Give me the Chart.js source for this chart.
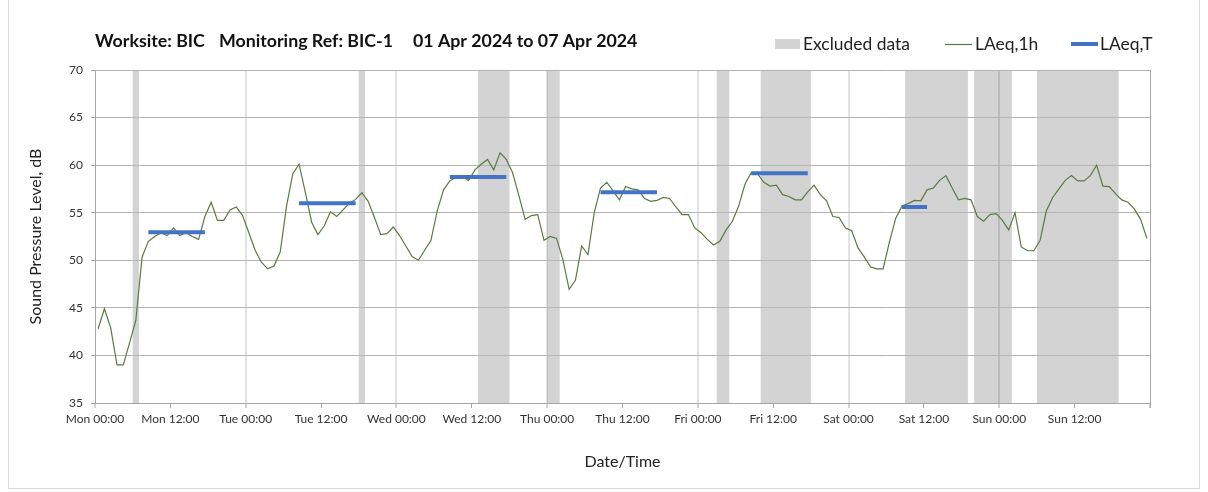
<!DOCTYPE html>
<html><head><meta charset="utf-8">
<script src="https://cdn.jsdelivr.net/npm/chart.js@4.4.1/dist/chart.umd.min.js"></script>
<style>html,body{margin:0;padding:0;background:#fff;}#wrap{position:relative;width:1208px;height:492px;}</style>
</head><body><div id="wrap"><canvas id="c" width="1208" height="492"></canvas></div>
<script>
// ---- data ----
const tickLabels = ['Mon 00:00','Mon 12:00','Tue 00:00','Tue 12:00','Wed 00:00','Wed 12:00','Thu 00:00','Thu 12:00','Fri 00:00','Fri 12:00','Sat 00:00','Sat 12:00','Sun 00:00','Sun 12:00'];
// hourly LAeq,1h values (Mon 00:00 .. Sun 23:00), plotted at mid-hour
const laeq1h = [
 42.8, 44.9, 42.9, 39.0, 39.0, 41.3, 43.7, 50.35, 52.0, 52.5,
 52.9, 52.6, 53.4, 52.6, 52.9, 52.5, 52.2, 54.6, 56.1, 54.2,
 54.2, 55.3, 55.6, 54.7, 52.9, 51.05, 49.8, 49.1, 49.4, 50.9,
 55.7, 59.1, 60.1, 57.1, 54.0, 52.7, 53.6, 55.1, 54.6, 55.3,
 56.0, 56.4, 57.1, 56.2, 54.5, 52.7, 52.8, 53.5, 52.6, 51.5,
 50.4, 50.0, 51.05, 52.1, 55.2, 57.4, 58.35, 58.7, 58.8, 58.4,
 59.5, 60.1, 60.6, 59.5, 61.3, 60.6, 59.2, 56.8, 54.3, 54.7,
 54.8, 52.1, 52.5, 52.3, 50.1, 46.95, 47.9, 51.5, 50.6, 55.0,
 57.6, 58.2, 57.3, 56.35, 57.75, 57.5, 57.4, 56.5, 56.2, 56.3,
 56.6, 56.5, 55.6, 54.8, 54.8, 53.4, 52.9, 52.2, 51.6, 52.0,
 53.2, 54.1, 55.7, 58.0, 59.2, 59.1, 58.2, 57.8, 57.9, 56.9,
 56.7, 56.35, 56.35, 57.2, 57.9, 56.9, 56.25, 54.6, 54.5, 53.4,
 53.1, 51.3, 50.35, 49.3, 49.1, 49.1, 51.9, 54.4, 55.7, 55.96,
 56.3, 56.25, 57.4, 57.6, 58.4, 58.9, 57.6, 56.35, 56.5, 56.35,
 54.6, 54.1, 54.8, 54.9, 54.2, 53.2, 55.0, 51.4, 51.0, 51.0,
 52.1, 55.2, 56.6, 57.5, 58.4, 58.9, 58.35, 58.35, 58.9, 60.0,
 57.8, 57.75, 57.0, 56.35, 56.1, 55.4, 54.3, 52.3
];
// LAeq,T periods (hours from Mon 00:00)
const laeqTStart = [8.5, 32.5, 56.5, 80.5, 104.5, 128.5];
const laeqTEnd   = [17.5, 41.5, 65.5, 89.5, 113.5, 132.5];
const laeqTValue = [52.95, 56.0, 58.75, 57.15, 59.15, 55.6];
// excluded data periods (hours from Mon 00:00)
const excludedStart = [6, 42, 61, 72, 99, 106, 129, 140, 150];
const excludedEnd   = [7, 43, 66, 74, 101, 114, 139, 146, 163];

// ---- build datasets ----
const lineData = laeq1h.map((v, i) => ({x: i + 0.5, y: v}));
const tData = [];
laeqTStart.forEach((s, k) => {
  tData.push({x: s, y: laeqTValue[k]}, {x: laeqTEnd[k], y: laeqTValue[k]}, {x: laeqTEnd[k] + 0.01, y: null});
});

const FONT = 'Lato';
const overlay = {
  id: 'overlay',
  beforeDraw(chart) {
    const {ctx, chartArea: a, scales: {x}} = chart;
    ctx.save();
    ctx.fillStyle = '#fff';
    ctx.fillRect(0, 0, chart.width, chart.height);
    ctx.fillStyle = '#d3d3d3';
    excludedStart.forEach((s, i) => {
      const x0 = x.getPixelForValue(s), x1 = x.getPixelForValue(excludedEnd[i]);
      ctx.fillRect(x0, a.top, x1 - x0, a.bottom - a.top);
    });
    ctx.restore();
  },
  afterDraw(chart) {
    const {ctx, chartArea: a} = chart;
    ctx.save();
    // right border of plot
    ctx.strokeStyle = '#a6a6a6'; ctx.lineWidth = 1;
    ctx.beginPath(); ctx.moveTo(Math.round(a.right) + 0.5, a.top); ctx.lineTo(Math.round(a.right) + 0.5, a.bottom + 5); ctx.stroke();
    // outer frame
    ctx.strokeStyle = '#d9d9d9';
    ctx.strokeRect(8.5, -2, 1191, 490.5);
    // title
    ctx.fillStyle = '#111';
    ctx.textBaseline = 'middle';
    ctx.font = 'bold 15px ' + FONT;
    const w = ctx.measureText('Monitoring Ref: BIC-1').width;
    const ts = 15 * 174 / w;
    ctx.font = 'bold ' + ts.toFixed(2) + 'px ' + FONT;
    ctx.fillText('Worksite: BIC', 95, 41);
    ctx.fillText('Monitoring Ref: BIC-1', 219, 41);
    ctx.fillText('01 Apr 2024 to 07 Apr 2024', 413, 41);
    // legend
    ctx.font = '16px ' + FONT;
    const lw = ctx.measureText('Excluded data').width;
    const ls = 16 * 107 / lw;
    ctx.font = ls.toFixed(2) + 'px ' + FONT;
    ctx.fillStyle = '#d3d3d3';
    ctx.fillRect(775, 39, 25, 10);
    ctx.fillStyle = '#222';
    ctx.fillText('Excluded data', 803, 44);
    ctx.strokeStyle = '#5a7a42'; ctx.lineWidth = 1.2;
    ctx.beginPath(); ctx.moveTo(945, 44.5); ctx.lineTo(972, 44.5); ctx.stroke();
    ctx.fillText('LAeq,1h', 975, 44);
    ctx.strokeStyle = '#4472c4'; ctx.lineWidth = 4;
    ctx.beginPath(); ctx.moveTo(1071, 44); ctx.lineTo(1098, 44); ctx.stroke();
    ctx.fillText('LAeq,T', 1100, 44);
    ctx.restore();
  }
};

new Chart(document.getElementById('c'), {
  type: 'line',
  data: {datasets: [
    {label: 'LAeq,T', data: tData, borderColor: '#4472c4', borderWidth: 4, pointRadius: 0, spanGaps: false, borderCapStyle: 'butt', order: 1},
    {label: 'LAeq,1h', data: lineData, borderColor: '#5a7a42', borderWidth: 1.2, pointRadius: 0, tension: 0, order: 2}
  ]},
  options: {
    responsive: false, animation: false,
    layout: {padding: {left: 10, right: 58, top: 70, bottom: 10}},
    plugins: {legend: {display: false}, title: {display: false}, tooltip: {enabled: false}},
    scales: {
      x: {
        type: 'linear', min: 0, max: 168,
        afterBuildTicks: s => { s.ticks = tickLabels.map((_, k) => ({value: k * 12})).concat([{value: 168}]); },
        ticks: {autoSkip: false, maxRotation: 0, padding: 4, color: '#333', font: {family: FONT, size: 12},
          callback: v => tickLabels[Math.round(v / 12)] || ''},
        grid: {
          color: c => (c.tick && c.tick.value % 24 === 0 && c.tick.value > 0 && c.tick.value < 168) ? 'rgba(0,0,0,0.11)' : 'rgba(0,0,0,0)',
          lineWidth: c => (c.tick && c.tick.value % 24 === 0) ? 2 : 1,
          tickColor: '#a6a6a6', tickLength: 5, tickWidth: 1
        },
        border: {display: true, color: '#a6a6a6', width: 1},
        title: {display: true, text: 'Date/Time', color: '#222', font: {family: FONT, size: 16}, padding: {top: 0, bottom: 11}},
        afterFit: s => { s.height = 79; }
      },
      y: {
        min: 35, max: 70,
        ticks: {stepSize: 5, padding: 8, color: '#333', font: {family: FONT, size: 12}},
        grid: {color: '#b5b5b5', tickColor: '#a6a6a6', tickLength: 4},
        border: {display: true, color: '#a6a6a6', width: 1},
        title: {display: true, text: 'Sound Pressure Level, dB', color: '#222', font: {family: FONT, size: 16}, padding: {top: 16, bottom: 0}},
        afterFit: s => { s.width = 85; }
      }
    }
  },
  plugins: [overlay]
});
</script></body></html>
